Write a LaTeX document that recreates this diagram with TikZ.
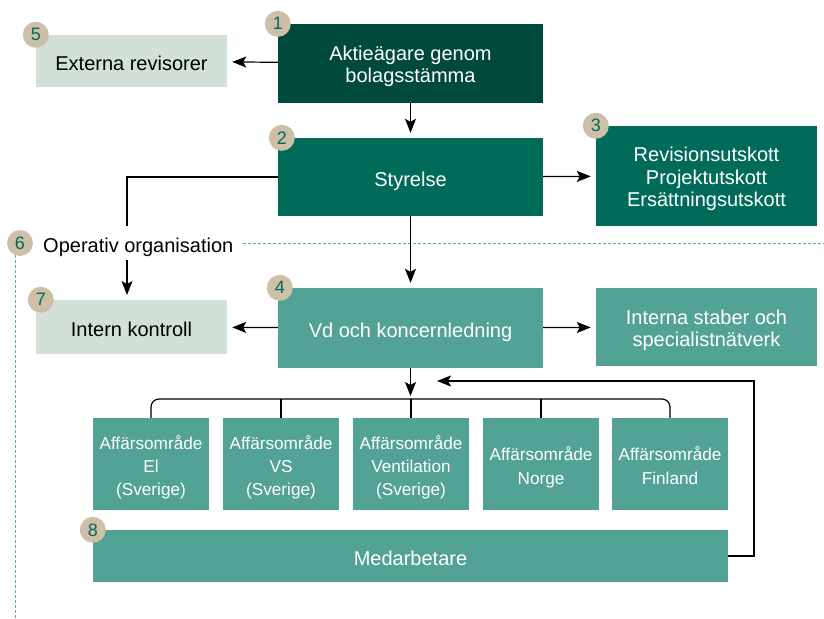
\documentclass[tikz,border=0pt]{standalone}
\usepackage{fontspec}
\setmainfont{Liberation Sans}
\usetikzlibrary{arrows.meta}

\definecolor{dgreen}{HTML}{004A3C}
\definecolor{mgreen}{HTML}{006B58}
\definecolor{lgreen}{HTML}{52A396}
\definecolor{pale}{HTML}{D1E1D8}
\definecolor{beige}{HTML}{CDBFA8}
\definecolor{dashcol}{HTML}{5BA89C}

\newcommand{\mainsize}{\fontsize{20}{22.3}\selectfont}
\newcommand{\smallsize}{\fontsize{17.2}{23.3}\selectfont}

\begin{document}
\begin{tikzpicture}[
x=1pt, y=-1pt,
>={Stealth[length=14pt,width=11pt,inset=3pt]},
box/.style={rectangle,inner sep=0,align=center,text=white,font=\mainsize,
  text height=19.5pt,text depth=0pt},
two/.style={text height=42.8pt,text depth=4.2pt},
three/.style={text height=65.1pt,text depth=4.2pt},
dark/.style={box,fill=dgreen},
mid/.style={box,fill=mgreen},
light/.style={box,fill=lgreen},
pal/.style={box,fill=pale,text=black},
unit/.style={light,font=\smallsize,minimum width=116,minimum height=92,
  text height=67.4pt,text depth=3.6pt},
unittwo/.style={unit,text height=44.1pt},
badge/.style={circle,fill=beige,text=mgreen,inner sep=0,minimum size=26,font=\fontsize{18}{18}\selectfont},
line/.style={draw,line width=1.2pt},
arr/.style={line,->,shorten >=5pt},
dline/.style={draw,dashcol,line width=0.9pt,dash pattern=on 3pt off 2pt}
]
\useasboundingbox (0,0) rectangle (824,618);

% boxes
\node[dark,two,minimum width=265,minimum height=79] (aktie) at (410.5,63.5) {Aktieägare genom\\bolagsstämma};
\node[pal,minimum width=191,minimum height=52] (ext) at (131.5,61) {Externa revisorer};
\node[mid,minimum width=265,minimum height=78] (styr) at (410.5,177) {Styrelse};
\node[mid,three,minimum width=221,minimum height=100] (utsk) at (706.5,176) {Revisionsutskott\\Projektutskott\\Ersättningsutskott};
\node[pal,minimum width=191,minimum height=54] (intk) at (131.5,327) {Intern kontroll};
\node[light,minimum width=265,minimum height=80] (vd) at (410.5,328) {Vd och koncernledning};
\node[light,two,minimum width=221,minimum height=78] (staber) at (706.5,327) {Interna staber och\\specialistnätverk};

\node[unit] (ao1) at (151,464) {Affärsområde\\El\\(Sverige)};
\node[unit] (ao2) at (281,464) {Affärsområde\\VS\\(Sverige)};
\node[unit] (ao3) at (411,464) {Affärsområde\\Ventilation\\(Sverige)};
\node[unittwo] (ao4) at (541,464) {Affärsområde\\Norge};
\node[unittwo] (ao5) at (670,464) {Affärsområde\\Finland};

\node[light,minimum width=635,minimum height=52] (medarb) at (410.5,556) {Medarbetare};

% operativ organisation
\node[anchor=west,inner sep=0,font=\mainsize,text height=19.5pt,text depth=0pt] (oper) at (43,243) {Operativ organisation};
\draw[dline] (243,243) -- (824,243);
\draw[dline] (15,255) -- (15,618);

% badges
\node[badge] (b1) at (aktie.north west) {1};
\node[badge] (b2) at ([xshift=4]styr.north west) {2};
\node[badge] (b3) at (utsk.north west) {3};
\node[badge] (b4) at ([xshift=2]vd.north west) {4};
\node[badge] (b5) at (ext.north west) {5};
\node[badge] (b6) at (20,243) {6};
\node[badge] (b7) at ([xshift=5]intk.north west) {7};
\node[badge] (b8) at (medarb.north west) {8};

% connectors
\coordinate (brk1) at (127,226);
\coordinate (brk2) at (127,260);
\coordinate (kin) at (127,300);
\coordinate (bus) at (410.5,399);
\coordinate (fbr) at (754,381);
\coordinate (fb) at (437,381);

\path[arr] (aktie) -- (ext);
\path[arr] (aktie) -- (styr);
\path[arr] (styr) -- (utsk);
\path[arr] (styr) -- (vd);
\path[line] (styr.west) -| (brk1);
\path[arr] (brk2) -- (kin);
\path[arr] (vd) -- (intk);
\path[arr] (vd) -- (staber);
\path[arr,shorten >=3pt] (vd) -- (bus);

\draw[line width=1.2pt,rounded corners=8] (ao1.north) |- (bus) -| (ao5.north);
\path[line] (ao2.north) -- (ao2.north |- bus);
\path[line] (ao3.north) -- (ao3.north |- bus);
\path[line] (ao4.north) -- (ao4.north |- bus);

\path[line,->] (medarb.east) -| (fbr) -- (fb);

\end{tikzpicture}
\end{document}
